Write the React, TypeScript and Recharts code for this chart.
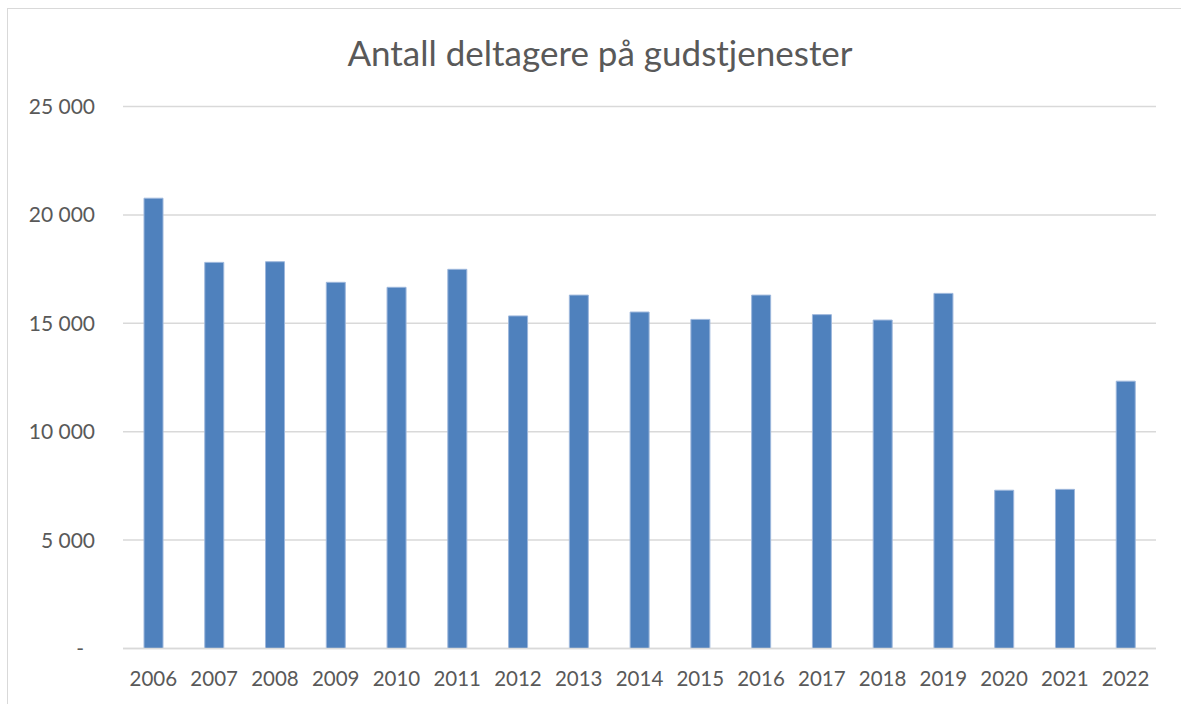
import { BarChart, Bar, XAxis, YAxis, CartesianGrid } from 'recharts';

const YEARS = ['2006', '2007', '2008', '2009', '2010', '2011', '2012', '2013', '2014', '2015', '2016', '2017', '2018', '2019', '2020', '2021', '2022'];
const DELTAGERE = [20770, 17810, 17840, 16890, 16660, 17490, 15340, 16300, 15520, 15180, 16300, 15400, 15150, 16380, 7300, 7340, 12330];
const Y_TICKS = [0, 5000, 10000, 15000, 20000, 25000];

const TITLE = 'Antall deltagere på gudstjenester';

const data = YEARS.map((year, i) => ({ year, value: DELTAGERE[i] }));

const FONT = 'Lato, "Open Sans", sans-serif';
const GREY_TEXT = '#595959';

// norsk tusenskille med mellomrom, 0 vises som "-"
const formatTick = (v: number) => (v === 0 ? '-' : v.toLocaleString('en-US').replace(/,/g, ' '));

function YTick(props: any) {
  const { y, payload } = props;
  const isZero = payload.value === 0;
  return (
    <text x={isZero ? 84 : 95} y={y + 7.5} textAnchor="end" fill={GREY_TEXT} fontSize={21} fontFamily={FONT}>
      {formatTick(payload.value)}
    </text>
  );
}

function XTick(props: any) {
  const { x, y, payload } = props;
  return (
    <text x={x} y={y + 29.5} textAnchor="middle" fill={GREY_TEXT} fontSize={20.5} fontFamily={FONT}>
      {payload.value}
    </text>
  );
}

export default function App() {
  return (
    <div style={{ position: 'absolute', left: 0, top: 0, width: 1181, height: 704, overflow: 'hidden', background: '#fff' }}>
      <div style={{ position: 'absolute', left: 7, top: 8, width: 1200, height: 720, border: '1px solid #d9d9d9' }} />
      <div
        style={{
          position: 'absolute',
          left: 0,
          top: 29,
          width: 1200,
          textAlign: 'center',
          fontFamily: FONT,
          fontSize: 35,
          lineHeight: '46px',
          color: GREY_TEXT,
        }}
      >
        {TITLE}
      </div>
      <div style={{ position: 'absolute', left: 0, top: 0 }}>
        <BarChart width={1181} height={704} data={data} margin={{ top: 106.5, right: 25, left: 0, bottom: 25.5 }} barCategoryGap="33%">
          <CartesianGrid vertical={false} stroke="#d9d9d9" strokeWidth={1.5} />
          <XAxis dataKey="year" axisLine={{ stroke: '#d9d9d9', strokeWidth: 1.5 }} tickLine={false} height={30} tick={<XTick />} interval={0} />
          <YAxis width={123} domain={[0, 25000]} ticks={Y_TICKS} axisLine={false} tickLine={false} tick={<YTick />} />
          <Bar dataKey="value" fill="#4f81bd" stroke="#9db7dc" strokeWidth={1} barSize={19} isAnimationActive={false} />
        </BarChart>
      </div>
    </div>
  );
}
